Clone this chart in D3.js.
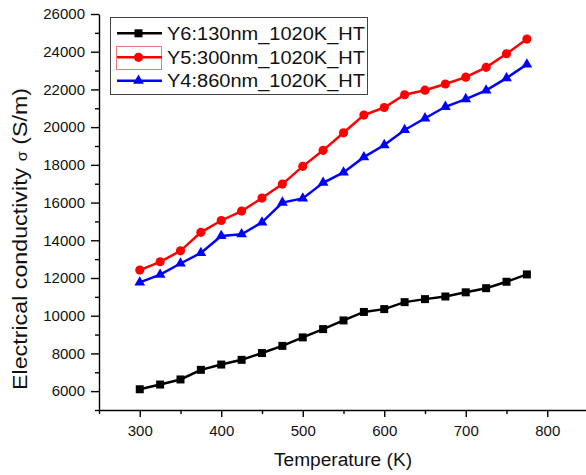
<!DOCTYPE html>
<html lang="en">

<head>
    <meta charset="utf-8">
    <title>Electrical conductivity vs Temperature</title>
    <script src="https://d3js.org/d3.v7.min.js"></script>
    <style>
        body { margin: 0; background: #fff; }
        svg { display: block; font-family: "Liberation Sans", Arial, sans-serif; }
        .axis path, .axis line { stroke: #000; stroke-width: 1.4; }
        .axis text { font-size: 15px; fill: #111; font-family: "Liberation Sans", Arial, sans-serif; }
        .axis_label { fill: #111; }
    </style>
</head>

<body>

    <script type="text/javascript">

        //Consts/global variables
        const w = 586;
        const h = 475;

        // data: temperature (K) and conductivity (S/m)
        const temperature = [300, 325, 350, 375, 400, 425, 450, 475, 500, 525, 550, 575, 600, 625, 650, 675, 700, 725, 750, 775];
        const y6 = [6100, 6350, 6620, 7130, 7410, 7660, 8020, 8400, 8850, 9290, 9750, 10200, 10350, 10720, 10880, 11020, 11240, 11460, 11800, 12190];
        const y5 = [12420, 12860, 13440, 14420, 15050, 15550, 16240, 16980, 17920, 18770, 19700, 20640, 21040, 21720, 21960, 22290, 22650, 23170, 23890, 24670];
        const y4 = [11770, 12180, 12770, 13330, 14230, 14320, 14950, 16000, 16220, 17050, 17600, 18410, 19050, 19850, 20470, 21080, 21490, 21950, 22600, 23330];

        const seriesNames = ["Y6:130nm_1020K_HT", "Y5:300nm_1020K_HT", "Y4:860nm_1020K_HT"];
        const seriesColors = ["#000000", "#ff0000", "#0000ff"];
        const seriesSymbols = [d3.symbolSquare, d3.symbolCircle, d3.symbolTriangle];
        const symbolSizes = [64, 66, 50];

        const xTicks = [300, 400, 500, 600, 700, 800];
        const xMinor = [250, 350, 450, 550, 650, 750, 850];
        const yTicks = [6000, 8000, 10000, 12000, 14000, 16000, 18000, 20000, 22000, 24000, 26000];
        const yMinor = [5000, 7000, 9000, 11000, 13000, 15000, 17000, 19000, 21000, 23000, 25000];

        const series = [y6, y5, y4].map((vals, i) => ({
            name: seriesNames[i],
            color: seriesColors[i],
            symbol: seriesSymbols[i],
            size: symbolSizes[i],
            values: vals.map((v, j) => ({ t: temperature[j], s: v }))
        }));

        //scales
        const xScale = d3.scaleLinear()
            .domain([250, 850])
            .range([99, 588]);

        const yScale = d3.scaleLinear()
            .domain([5000, 26000])
            .range([410, 14]);

        //SVG
        const svg = d3.select("body")
            .append("svg")
            .attr("width", w)
            .attr("height", h);

        //bottom axis (major + minor ticks)
        svg.append("g")
            .attr("class", "axis")
            .attr("transform", "translate(0,410)")
            .call(d3.axisBottom(xScale).tickValues(xTicks).tickSize(7).tickSizeOuter(0).tickPadding(8.5).tickFormat(d3.format("d")));

        svg.append("g")
            .attr("class", "axis")
            .attr("transform", "translate(0,410)")
            .call(d3.axisBottom(xScale).tickValues(xMinor).tickSize(4).tickSizeOuter(0).tickFormat(""))
            .select(".domain").remove();

        //left axis
        svg.append("g")
            .attr("class", "axis")
            .attr("transform", "translate(99,0)")
            .call(d3.axisLeft(yScale).tickValues(yTicks).tickSize(8).tickSizeOuter(0).tickPadding(6).tickFormat(d3.format("d")));

        svg.append("g")
            .attr("class", "axis")
            .attr("transform", "translate(99,0)")
            .call(d3.axisLeft(yScale).tickValues(yMinor).tickSize(4).tickSizeOuter(0).tickFormat(""))
            .select(".domain").remove();

        //x-axis label
        svg.append("text")
            .attr("x", 343)
            .attr("y", 466)
            .attr("class", "axis_label")
            .attr("text-anchor", "middle")
            .attr("font-size", 18)
            .attr("textLength", 138)
            .attr("lengthAdjust", "spacingAndGlyphs")
            .text("Temperature (K)");

        //y-axis label
        const yLab = svg.append("text")
            .attr("class", "axis_label")
            .attr("text-anchor", "middle")
            .attr("font-size", 20)
            .attr("transform", "translate(27,239) rotate(-90)")
            .attr("textLength", 302)
            .attr("lengthAdjust", "spacingAndGlyphs");
        yLab.append("tspan").text("Electrical conductivity ");
        yLab.append("tspan").attr("font-size", 14).text("σ");
        yLab.append("tspan").text(" (S/m)");

        //lines and markers
        const line = d3.line()
            .x(d => xScale(d.t))
            .y(d => yScale(d.s));

        series.forEach(sr => {
            svg.append("path")
                .datum(sr.values)
                .attr("d", line)
                .attr("fill", "none")
                .attr("stroke", sr.color)
                .attr("stroke-width", 2.5);

            svg.selectAll(null)
                .data(sr.values)
                .join("path")
                .attr("transform", d => "translate(" + xScale(d.t) + "," + yScale(d.s) + ")")
                .attr("d", d3.symbol().type(sr.symbol).size(sr.size))
                .attr("fill", sr.color);
        });

        //legend
        const legend = svg.append("g");
        legend.append("rect")
            .attr("x", 110.5)
            .attr("y", 17.5)
            .attr("width", 257)
            .attr("height", 77)
            .attr("fill", "#fff")
            .attr("stroke", "#444")
            .attr("stroke-width", 1);

        // highlight box around the red sample
        legend.append("rect")
            .attr("x", 116.5)
            .attr("y", 46.5)
            .attr("width", 45)
            .attr("height", 23)
            .attr("fill", "none")
            .attr("stroke", "#ec7a7a")
            .attr("stroke-width", 1);

        const rowY = [33.3, 57.3, 80.7];
        series.forEach((sr, i) => {
            legend.append("line")
                .attr("x1", 117)
                .attr("x2", 162)
                .attr("y1", rowY[i])
                .attr("y2", rowY[i])
                .attr("stroke", sr.color)
                .attr("stroke-width", 2.5);
            legend.append("path")
                .attr("transform", "translate(138.5," + rowY[i] + ")")
                .attr("d", d3.symbol().type(sr.symbol).size(sr.size))
                .attr("fill", sr.color);
            legend.append("text")
                .attr("x", 167)
                .attr("y", rowY[i] + 6.5)
                .attr("font-size", 18)
                .attr("fill", "#111")
                .attr("textLength", 198)
                .attr("lengthAdjust", "spacingAndGlyphs")
                .text(sr.name);
        });

    </script>
</body>

</html>
